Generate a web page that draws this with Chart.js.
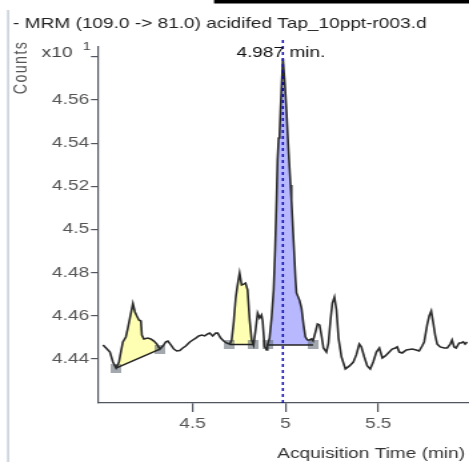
<!DOCTYPE html>
<html>
<head>
<meta charset="utf-8">
<script src="https://cdn.jsdelivr.net/npm/chart.js@4/dist/chart.umd.min.js"></script>
<style>
  html, body { margin: 0; padding: 0; background: #fff; overflow: hidden; }
  #wrap {
    position: absolute; left: 0; top: 0;
    width: 352px; height: 462px;
    transform: scaleX(1.33239); transform-origin: 0 0;
  }
</style>
</head>
<body>
<div id="wrap"><canvas id="c"></canvas></div>
<script>
// Chromatogram text
const titleText = '- MRM (109.0 -> 81.0) acidifed Tap_10ppt-r003.d';
const xAxisTitle = 'Acquisition Time (min)';
const yAxisTitle = 'Counts';
const yMultiplier = ['x10', '1'];

// Acquisition time (min) and counts (x10^1)
const times = [
  4.019,4.035,4.056,4.072,4.089,4.105,4.115,4.126,4.142,4.153,
  4.164,4.180,4.191,4.201,4.212,4.223,4.228,4.239,4.260,4.276,
  4.293,4.309,4.325,4.341,4.357,4.368,4.384,4.400,4.416,4.432,
  4.448,4.464,4.486,4.502,4.518,4.534,4.550,4.566,4.582,4.593,
  4.609,4.625,4.636,4.652,4.668,4.684,4.701,4.711,4.722,4.733,
  4.743,4.754,4.765,4.776,4.786,4.797,4.808,4.819,4.829,4.840,
  4.851,4.862,4.872,4.878,4.888,4.899,4.904,4.915,4.926,4.937,
  4.945,4.953,4.958,4.964,4.969,4.974,4.980,4.987,4.998,5.006,
  5.017,5.028,5.033,5.044,5.055,5.060,5.076,5.087,5.098,5.108,
  5.119,5.130,5.141,5.149,5.162,5.173,5.184,5.194,5.205,5.221,
  5.232,5.243,5.253,5.264,5.275,5.286,5.302,5.323,5.345,5.366,
  5.382,5.398,5.409,5.425,5.441,5.457,5.473,5.490,5.506,5.522,
  5.538,5.554,5.575,5.592,5.602,5.613,5.629,5.651,5.683,5.704,
  5.720,5.736,5.747,5.763,5.774,5.785,5.795,5.806,5.817,5.833,
  5.855,5.871,5.887,5.897,5.908,5.919,5.935,5.946,5.957,5.967,
  5.978
];
const counts = [
  4.4465,4.4451,4.4432,4.4386,4.4358,4.4386,4.4432,4.4479,4.4502,4.4544,
  4.4590,4.4657,4.4618,4.4599,4.4581,4.4576,4.4511,4.4493,4.4497,4.4493,
  4.4483,4.4469,4.4446,4.4460,4.4479,4.4483,4.4465,4.4446,4.4437,4.4439,
  4.4451,4.4460,4.4479,4.4488,4.4497,4.4507,4.4511,4.4507,4.4516,4.4520,
  4.4507,4.4520,4.4520,4.4497,4.4483,4.4474,4.4469,4.4488,4.4571,4.4683,
  4.4743,4.4798,4.4743,4.4747,4.4752,4.4720,4.4581,4.4488,4.4465,4.4534,
  4.4613,4.4590,4.4604,4.4576,4.4460,4.4442,4.4465,4.4497,4.4590,4.4720,
  4.4905,4.5146,4.5322,4.5424,4.5442,4.5554,4.5669,4.5793,4.5669,4.5554,
  4.5368,4.5206,4.5137,4.4951,4.4766,4.4706,4.4673,4.4636,4.4558,4.4502,
  4.4488,4.4488,4.4493,4.4484,4.4525,4.4562,4.4558,4.4511,4.4451,4.4432,
  4.4474,4.4581,4.4659,4.4687,4.4627,4.4497,4.4409,4.4354,4.4368,4.4386,
  4.4419,4.4469,4.4456,4.4409,4.4368,4.4354,4.4386,4.4432,4.4451,4.4405,
  4.4414,4.4428,4.4446,4.4451,4.4456,4.4432,4.4428,4.4442,4.4446,4.4442,
  4.4437,4.4460,4.4479,4.4558,4.4599,4.4622,4.4571,4.4511,4.4469,4.4456,
  4.4451,4.4451,4.4469,4.4488,4.4456,4.4451,4.4474,4.4474,4.4479,4.4469,
  4.4479
];

// Integrated peaks: start/end times and baseline counts at each end
const peakStart = [4.089, 4.701, 4.904];
const peakEnd   = [4.325, 4.829, 5.149];
const baseStart = [4.4358, 4.4467, 4.4465];
const baseEnd   = [4.4446, 4.4467, 4.4465];
const apexTime = 4.987;

// Axis ticks
const xTicks = [4.5, 5, 5.5];
const yTicks = [4.44, 4.46, 4.48, 4.5, 4.52, 4.54, 4.56, 4.58];

const FONT = "'Liberation Sans', Arial, sans-serif";
Chart.defaults.font.family = FONT;

const trace = times.map((t, i) => ({ x: t, y: counts[i] }));

function peakArea(k) {
  const pts = [{ x: peakStart[k], y: baseStart[k] }];
  times.forEach((t, i) => {
    if (t > peakStart[k] && t < peakEnd[k]) pts.push({ x: t, y: counts[i] });
  });
  pts.push({ x: peakEnd[k], y: baseEnd[k] });
  return pts;
}
function baseline(k) {
  return [{ x: peakStart[k], y: baseStart[k] }, { x: peakEnd[k], y: baseEnd[k] }];
}
const markers = [];
peakStart.forEach((s, k) => {
  markers.push({ x: s, y: baseStart[k] });
  markers.push({ x: peakEnd[k], y: baseEnd[k] });
});

// small grey square used for the integration end points
const marker = document.createElement('canvas');
marker.width = 8; marker.height = 9;
(function () {
  const m = marker.getContext('2d');
  m.fillStyle = 'rgba(105,115,125,0.62)';
  m.fillRect(0, 0, 8, 9);
})();

const fillColors = ['#ffffb4', '#ffffb4', '#b8b8ff'];

const datasets = [
  { data: trace, borderColor: '#2a2a2a', borderWidth: 1.6, pointRadius: 0, fill: false, tension: 0 }
];
peakStart.forEach((_, k) => {
  datasets.push({ data: baseline(k), borderColor: '#222', borderWidth: 1.4, pointRadius: 0, fill: false });
});
datasets.push({ data: markers, showLine: false, pointStyle: marker, pointRadius: 5, borderWidth: 0 });
peakStart.forEach((_, k) => {
  datasets.push({
    data: peakArea(k), borderWidth: 0, borderColor: 'rgba(0,0,0,0)',
    backgroundColor: fillColors[k], pointRadius: 0, fill: 'shape'
  });
});

const decorations = {
  id: 'decorations',
  afterDatasetsDraw(chart) {
    const { ctx, scales: { x } , chartArea } = chart;
    const px = x.getPixelForValue(apexTime);
    ctx.save();
    ctx.strokeStyle = '#0a0ab4';
    ctx.lineWidth = 1.5;
    ctx.setLineDash([3, 3]);
    ctx.beginPath();
    ctx.moveTo(px, 40);
    ctx.lineTo(px, chartArea.bottom);
    ctx.stroke();
    ctx.restore();
  },
  afterDraw(chart) {
    const { ctx, scales: { x } } = chart;
    ctx.save();
    // panel edges
    ctx.fillStyle = '#c9d1d9';
    ctx.fillRect(5.3, 10, 1.6, 452);
    ctx.fillStyle = '#000';
    ctx.fillRect(160.6, 0, 192, 3.5);

    ctx.textBaseline = 'alphabetic';
    ctx.font = `14.3px ${FONT}`;
    ctx.fillStyle = '#222';
    ctx.textAlign = 'left';
    ctx.fillText(titleText, 9.8, 28.3);

    // multiplier
    ctx.fillStyle = '#444';
    ctx.fillText(yMultiplier[0], 31.3, 56.7);
    ctx.font = `11px ${FONT}`;
    ctx.fillText(yMultiplier[1], 62.1, 50);

    // apex label
    ctx.font = `14.3px ${FONT}`;
    ctx.fillStyle = '#111';
    ctx.textAlign = 'center';
    ctx.fillText(apexTime.toFixed(3) + ' min.', x.getPixelForValue(apexTime) - 1.5, 56.7);

    // axis titles
    ctx.fillStyle = '#333';
    ctx.textAlign = 'right';
    ctx.fillText(xAxisTitle, 349, 457.5);

    ctx.save();
    ctx.translate(16.5, 67.5);
    ctx.rotate(-Math.PI / 2);
    ctx.textAlign = 'center';
    ctx.textBaseline = 'middle';
    ctx.fillStyle = '#555';
    ctx.letterSpacing = '1.4px';
    ctx.fillText(yAxisTitle, 0, 0);
    ctx.restore();
    ctx.restore();
  }
};

new Chart(document.getElementById('c'), {
  type: 'line',
  data: { datasets },
  options: {
    responsive: true,
    maintainAspectRatio: false,
    animation: false,
    events: [],
    layout: { autoPadding: false, padding: { top: 47, left: 0, right: 0.75, bottom: 0 } },
    plugins: { legend: { display: false }, tooltip: { enabled: false } },
    scales: {
      x: {
        type: 'linear', min: 3.992, max: 5.983,
        afterBuildTicks: s => { s.ticks = xTicks.map(v => ({ value: v })); },
        afterFit: s => { s.height = 59; s.paddingLeft = 0; s.paddingRight = 0; },
        ticks: {
          callback: v => String(v), color: '#555', padding: 3.5,
          maxRotation: 0, autoSkip: false, font: { size: 14.3, family: FONT }
        },
        grid: { drawOnChartArea: false, drawTicks: true, tickLength: 9, color: '#505560', lineWidth: 1.2 },
        border: { display: true, color: '#505560', width: 1.3 }
      },
      y: {
        type: 'linear', min: 4.4196, max: 4.5846,
        afterBuildTicks: s => { s.ticks = yTicks.map(v => ({ value: v })); },
        afterFit: s => { s.width = 73.55; s.paddingTop = 0; s.paddingBottom = 0; },
        ticks: {
          callback: v => (Math.abs(v - 4.58) < 1e-6 ? '' : String(+v.toFixed(2))),
          color: '#555', padding: 1.3, autoSkip: false, font: { size: 14.3, family: FONT }
        },
        grid: { drawOnChartArea: false, drawTicks: true, tickLength: 5.3, color: '#505560', lineWidth: 1.2 },
        border: { display: true, color: '#505560', width: 1.2 }
      }
    }
  },
  plugins: [decorations]
});
</script>
</body>
</html>
